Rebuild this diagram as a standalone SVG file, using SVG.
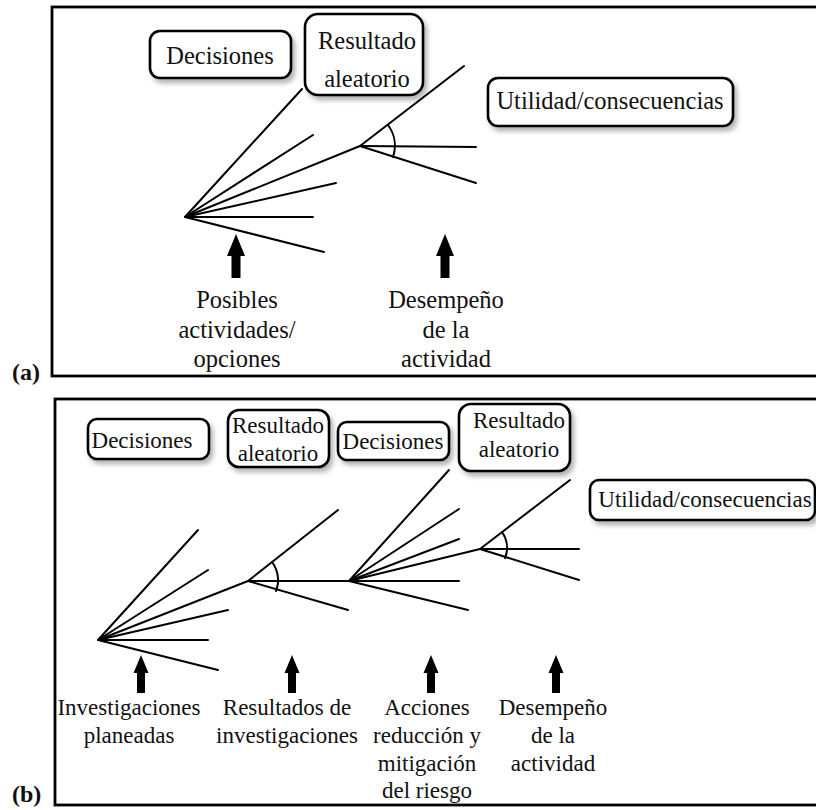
<svg xmlns="http://www.w3.org/2000/svg" width="816" height="810" viewBox="0 0 816 810">
<defs>
<filter id="sh" x="-20%" y="-20%" width="150%" height="160%">
<feDropShadow dx="3" dy="4" stdDeviation="2.5" flood-color="#000" flood-opacity="0.3"/>
</filter>
</defs>
<style>
.frame{fill:none;stroke:#000;stroke-width:2.8}
.box{fill:#fff;stroke:#000;stroke-width:2.6;filter:url(#sh)}
.ln{stroke:#000;stroke-width:2;fill:none;stroke-linecap:round}
.arr{fill:#000}
text{font-family:'Liberation Serif',Tinos,'Times New Roman',Times,'DejaVu Serif',serif;font-style:normal;font-weight:400}
.ta{font-size:24.5px;fill:#111;text-anchor:middle}
.tb{font-size:23px;fill:#111;text-anchor:middle}
.lab{font-size:24px;font-weight:700;fill:#111}
</style>
<rect width="816" height="810" fill="#fff"/>

<g id="panel-a">
<rect class="frame" x="52" y="7" width="780" height="369"/>
<text class="lab" x="12" y="380">(a)</text>
</g>
<g id="a-decisiones"><rect class="box" x="150" y="31" width="141" height="47" rx="10"/><text class="ta" x="220" y="64">Decisiones</text></g>
<g id="a-resultado"><rect class="box" x="305" y="14" width="118" height="81" rx="13"/><text class="ta" x="367" y="49">Resultado</text><text class="ta" x="367" y="87">aleatorio</text></g>
<g id="a-utilidad"><rect class="box" x="488" y="78" width="245" height="48" rx="10"/><text class="ta" x="610" y="109">Utilidad/consecuencias</text></g>
<g id="a-connectors">
<line class="ln" x1="185" y1="217" x2="302" y2="89"/>
<line class="ln" x1="185" y1="217" x2="313" y2="135"/>
<line class="ln" x1="185" y1="217" x2="360" y2="146"/>
<line class="ln" x1="185" y1="217" x2="336" y2="183"/>
<line class="ln" x1="185" y1="217" x2="313" y2="217"/>
<line class="ln" x1="185" y1="217" x2="324" y2="252"/>
<line class="ln" x1="360" y1="146" x2="464" y2="66"/>
<line class="ln" x1="360" y1="146" x2="476" y2="147"/>
<line class="ln" x1="360" y1="146" x2="476" y2="183"/>
<path class="ln" d="M388,125 A35,35 0 0 1 393,157"/>
</g>
<g id="a-arrows">
<polygon class="arr" points="236,234 245,256 240.5,256 240.5,278 231.5,278 231.5,256 227,256"/>
<polygon class="arr" points="445,234 454,256 449.5,256 449.5,278 440.5,278 440.5,256 436,256"/>
</g>
<g id="a-label1"><text class="ta" x="237" y="308">Posibles</text><text class="ta" x="237" y="338">actividades/</text><text class="ta" x="237" y="367">opciones</text></g>
<g id="a-label2"><text class="ta" x="446" y="308">Desempeño</text><text class="ta" x="446" y="338">de la</text><text class="ta" x="446" y="367">actividad</text></g>

<g id="panel-b">
<rect class="frame" x="55" y="399" width="780" height="406"/>
<text class="lab" x="12" y="802">(b)</text>
</g>
<g id="b-decisiones1"><rect class="box" x="88" y="419" width="121" height="40" rx="9"/><text class="tb" x="142" y="448">Decisiones</text></g>
<g id="b-resultado1"><rect class="box" x="228" y="410" width="101" height="57" rx="11"/><text class="tb" x="278" y="433">Resultado</text><text class="tb" x="278" y="461">aleatorio</text></g>
<g id="b-decisiones2"><rect class="box" x="338" y="422" width="111" height="38" rx="9"/><text class="tb" x="393" y="449">Decisiones</text></g>
<g id="b-resultado2"><rect class="box" x="459" y="404" width="111" height="67" rx="12"/><text class="tb" x="519" y="428">Resultado</text><text class="tb" x="519" y="457">aleatorio</text></g>
<g id="b-utilidad"><rect class="box" x="590" y="480" width="225" height="40" rx="9"/><text class="tb" x="705" y="507">Utilidad/consecuencias</text></g>
<g id="b-connectors">
<line class="ln" x1="98" y1="640" x2="198" y2="530"/>
<line class="ln" x1="98" y1="640" x2="208" y2="570"/>
<line class="ln" x1="98" y1="640" x2="248" y2="581"/>
<line class="ln" x1="98" y1="640" x2="228" y2="610"/>
<line class="ln" x1="98" y1="640" x2="208" y2="640"/>
<line class="ln" x1="98" y1="640" x2="218" y2="670"/>
<line class="ln" x1="248" y1="581" x2="338" y2="510"/>
<line class="ln" x1="248" y1="581" x2="349" y2="581"/>
<line class="ln" x1="248" y1="581" x2="348" y2="610"/>
<path class="ln" d="M272,562 A30,30 0 0 1 276,591"/>
<line class="ln" x1="349" y1="581" x2="449" y2="470"/>
<line class="ln" x1="349" y1="581" x2="459" y2="509"/>
<line class="ln" x1="349" y1="581" x2="459" y2="539"/>
<line class="ln" x1="349" y1="581" x2="480" y2="549"/>
<line class="ln" x1="349" y1="581" x2="459" y2="581"/>
<line class="ln" x1="349" y1="581" x2="468" y2="610"/>
<line class="ln" x1="480" y1="549" x2="570" y2="480"/>
<line class="ln" x1="480" y1="549" x2="579" y2="549"/>
<line class="ln" x1="480" y1="549" x2="579" y2="580"/>
<path class="ln" d="M502,532 A27,27 0 0 1 505,558"/>
</g>
<g id="b-arrows">
<polygon class="arr" points="141,655 148.5,673 145,673 145,693 137,693 137,673 133.5,673"/>
<polygon class="arr" points="292,655 299.5,673 296,673 296,693 288,693 288,673 284.5,673"/>
<polygon class="arr" points="431,655 438.5,673 435,673 435,693 427,693 427,673 423.5,673"/>
<polygon class="arr" points="556,655 563.5,673 560,673 560,693 552,693 552,673 548.5,673"/>
</g>
<g id="b-label1"><text class="tb" x="129" y="715">Investigaciones</text><text class="tb" x="129" y="743">planeadas</text></g>
<g id="b-label2"><text class="tb" x="287" y="715">Resultados de</text><text class="tb" x="287" y="743">investigaciones</text></g>
<g id="b-label3"><text class="tb" x="427" y="715">Acciones</text><text class="tb" x="427" y="743">reducción y</text><text class="tb" x="427" y="771">mitigación</text><text class="tb" x="427" y="798">del riesgo</text></g>
<g id="b-label4"><text class="tb" x="553" y="715">Desempeño</text><text class="tb" x="553" y="743">de la</text><text class="tb" x="553" y="771">actividad</text></g>
</svg>
